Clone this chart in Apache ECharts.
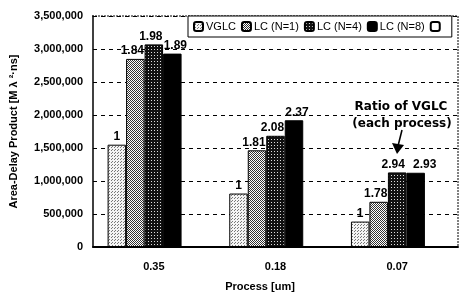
<!DOCTYPE html>
<html>
<head>
<meta charset="utf-8">
<script src="https://cdn.jsdelivr.net/npm/echarts@6/dist/echarts.min.js"></script>
<style>
  html, body { margin: 0; padding: 0; background: #fff; }
  #chart { width: 459px; height: 293px; }
</style>
</head>
<body>
<div id="chart"></div>
<script>
var processes = ['0.35', '0.18', '0.07'];
var seriesNames = ['VGLC', 'LC (N=1)', 'LC (N=4)', 'LC (N=8)'];
var vglc = [1550000, 810000, 385000];
var lcN1 = [2850000, 1465000, 685000];
var lcN4 = [3070000, 1685000, 1130000];
var lcN8 = [2930000, 1920000, 1125000];
var ratioVglc = ['1', '1', '1'];
var ratioN1 = ['1.84', '1.81', '1.78'];
var ratioN4 = ['1.98', '2.08', '2.94'];
var ratioN8 = ['1.89', '2.37', '2.93'];

// small tiled canvases for the printed halftone look
function makePattern(size, bg, fg, dots) {
    var c = document.createElement('canvas');
    c.width = size; c.height = size;
    var ctx = c.getContext('2d');
    ctx.fillStyle = bg;
    ctx.fillRect(0, 0, size, size);
    ctx.fillStyle = fg;
    dots.forEach(function (d) { ctx.fillRect(d[0], d[1], 1, 1); });
    return { image: c, repeat: 'repeat' };
}
var patVglc = makePattern(3, '#f4f4f4', '#777', [[0, 0], [1, 2]]);
var patN1 = makePattern(2, '#fff', '#333', [[0, 0], [1, 1]]);
var patN4 = makePattern(3, '#111', '#ddd', [[1, 1]]);

var font = '"Liberation Sans", Arial, sans-serif';

// dx: horizontal nudge of each value label, per category
function barSeries(name, data, labels, color, dx) {
    return {
        name: name,
        type: 'bar',
        data: data.map(function (v, i) {
            return { value: v, label: { offset: [dx[i], 0] } };
        }),
        barGap: 0,
        barCategoryGap: '24%',
        itemStyle: { color: color, borderColor: '#000', borderWidth: 1 },
        label: {
            show: true,
            position: 'top',
            distance: 2,
            color: '#000',
            fontFamily: font,
            fontWeight: 'bold',
            fontSize: 12,
            formatter: function (p) { return labels[p.dataIndex]; }
        }
    };
}

var option = {
    backgroundColor: '#fff',
    animation: false,
    grid: { left: 92, right: 1, top: 16, bottom: 46 },
    legend: {
        left: 188,
        top: 16,
        padding: [5, 6, 5, 5],
        backgroundColor: '#fff',
        borderColor: '#000',
        borderWidth: 1,
        itemWidth: 9,
        itemHeight: 9,
        itemGap: 5,
        textStyle: { fontFamily: font, fontSize: 11, color: '#000', padding: [0, 0, 0, -2] },
        data: seriesNames.concat([' '])
    },
    xAxis: {
        type: 'category',
        data: processes,
        axisLine: { lineStyle: { color: '#000', width: 2 } },
        axisTick: { inside: true, length: 4, lineStyle: { color: '#000' } },
        axisLabel: { color: '#000', fontFamily: font, fontWeight: 'bold', fontSize: 11, margin: 14 }
    },
    yAxis: {
        type: 'value',
        min: 0,
        max: 3500000,
        interval: 500000,
        name: 'Area-Delay Product [M λ ²·ns]',
        nameLocation: 'middle',
        nameGap: 74,
        nameTextStyle: { color: '#000', fontFamily: font, fontWeight: 'bold', fontSize: 11 },
        axisLine: { show: true, lineStyle: { color: '#000', width: 1.5 } },
        axisTick: { show: false },
        axisLabel: {
            color: '#000', fontFamily: font, fontWeight: 'bold', fontSize: 11, margin: 10,
            formatter: function (v) { return v.toLocaleString('en-US'); }
        },
        splitLine: { lineStyle: { color: '#000', type: [4, 4], width: 1 } }
    },
    graphic: [
        // dotted top and right frame
        { type: 'line', shape: { x1: 92, y1: 16, x2: 458, y2: 16 }, style: { stroke: '#000', lineWidth: 1, lineDash: [2, 1] } },
        { type: 'line', shape: { x1: 458, y1: 16, x2: 458, y2: 247 }, style: { stroke: '#000', lineWidth: 1, lineDash: [2, 1] } },
        { type: 'text', x: 401, y: 107, style: { text: 'Ratio of VGLC', font: 'bold 12px "DejaVu Sans", sans-serif', fill: '#000', align: 'center', verticalAlign: 'middle' } },
        { type: 'text', x: 402, y: 124, style: { text: '(each process)', font: 'bold 12px "DejaVu Sans", sans-serif', fill: '#000', align: 'center', verticalAlign: 'middle' } },
        { type: 'line', shape: { x1: 402, y1: 130, x2: 398, y2: 146 }, style: { stroke: '#000', lineWidth: 1.5 } },
        { type: 'polygon', shape: { points: [[392, 143], [404, 145], [397, 154]] }, style: { fill: '#000' } },
        { type: 'text', x: 260, y: 287, style: { text: 'Process [um]', font: 'bold 11px ' + font, fill: '#000', align: 'center', verticalAlign: 'middle' } }
    ],
    series: [
        barSeries(seriesNames[0], vglc, ratioVglc, patVglc, [0, 0, 0]),
        barSeries(seriesNames[1], lcN1, ratioN1, patN1, [-3, -3, -3]),
        barSeries(seriesNames[2], lcN4, ratioN4, patN4, [-3, -3, -4]),
        barSeries(seriesNames[3], lcN8, ratioN8, '#000', [3, 3, 9]),
        {
            name: ' ',
            type: 'bar',
            data: [null, null, null],
            barGap: 0,
            itemStyle: { color: '#fff', borderColor: '#000', borderWidth: 1 }
        }
    ]
};

var myChart = echarts.init(document.getElementById('chart'));
myChart.setOption(option);
window.addEventListener('resize', function () {
    myChart.resize();
});
</script>
</body>
</html>
